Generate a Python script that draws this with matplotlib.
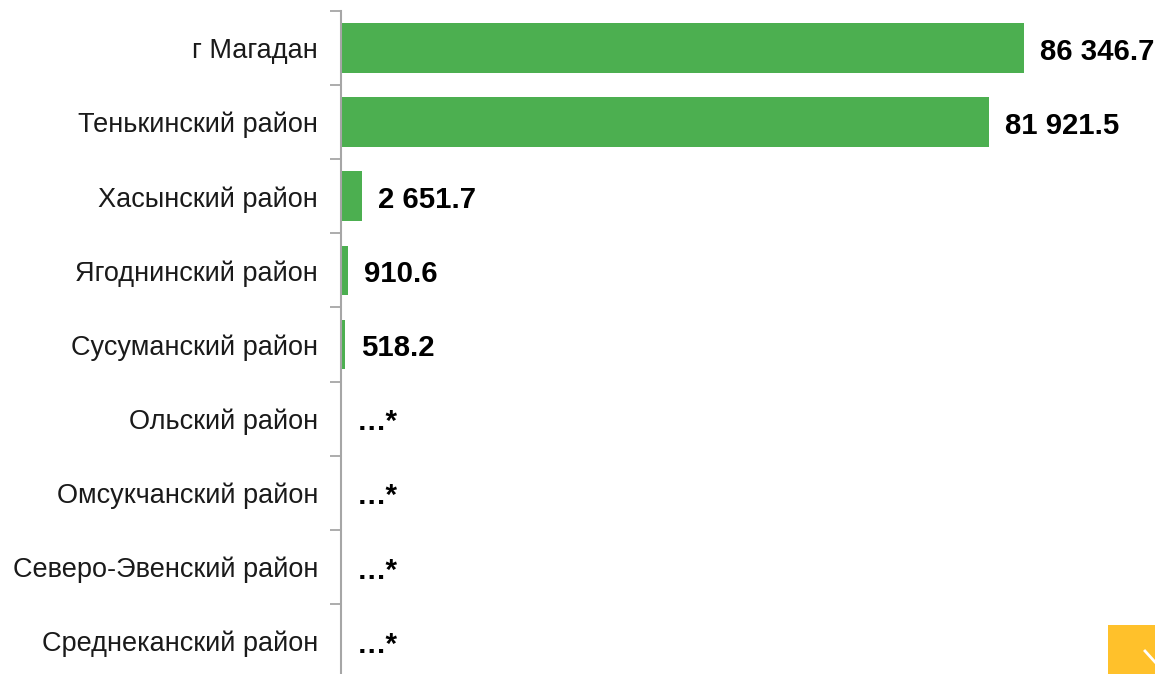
import numpy as np
import matplotlib
matplotlib.use("Agg")
import matplotlib.pyplot as plt
from matplotlib.patches import Rectangle
from matplotlib.lines import Line2D

plt.rcParams['font.family'] = ['Liberation Sans', 'DejaVu Sans']

districts = ['г Магадан', 'Тенькинский район', 'Хасынский район', 'Ягоднинский район',
             'Сусуманский район', 'Ольский район', 'Омсукчанский район',
             'Северо-Эвенский район', 'Среднеканский район']
values = [86346.7, 81921.5, 2651.7, 910.6, 518.2, 0, 0, 0, 0]
value_labels = ['86 346.7', '81 921.5', '2 651.7', '910.6', '518.2', '…*', '…*', '…*', '…*']

GREEN = '#4CAF50'
AXIS_GREY = '#A6A6A6'

fig = plt.figure(figsize=(11.55, 6.74), dpi=100)
ax = fig.add_axes([341 / 1155, -4 / 674, 1 - 341 / 1155, 667 / 674])

pos = np.arange(len(districts))
ax.barh(pos, values, height=0.67, color=GREEN)

xmax = 86346.7 * (1155 - 341) / (1024 - 341)
ax.set_xlim(0, xmax)
ax.set_ylim(len(districts) - 0.5, -0.5)

offset = xmax * 16 / 814
for y, v, lab in zip(pos, values, value_labels):
    ax.text(v + offset, y + 0.05, lab, va='center', ha='left', fontsize=21.2,
            fontweight='bold', color='black')

ax.set_yticks(pos)
ax.set_yticklabels(districts, fontsize=19.5, color='#1a1a1a')
ax.tick_params(axis='y', which='major', length=0, pad=16.5)
ax.set_yticks(np.arange(-0.5, len(districts), 1), minor=True)
ax.tick_params(axis='y', which='minor', length=8, width=1.3, color=AXIS_GREY)
ax.set_xticks([])

for side in ['top', 'right', 'bottom']:
    ax.spines[side].set_visible(False)
ax.spines['left'].set_color(AXIS_GREY)
ax.spines['left'].set_linewidth(1.5)

# yellow corner badge
fig.patches.append(Rectangle((1108 / 1155, 0), 47 / 1155, 49 / 674, transform=fig.transFigure,
                             facecolor='#FFC12B', edgecolor='none'))
fig.lines.append(Line2D([1145 / 1155, 1155 / 1155], [(674 - 651) / 674, (674 - 662) / 674],
                        transform=fig.transFigure, color='white', linewidth=2))

fig.savefig('out.png', dpi=100)
